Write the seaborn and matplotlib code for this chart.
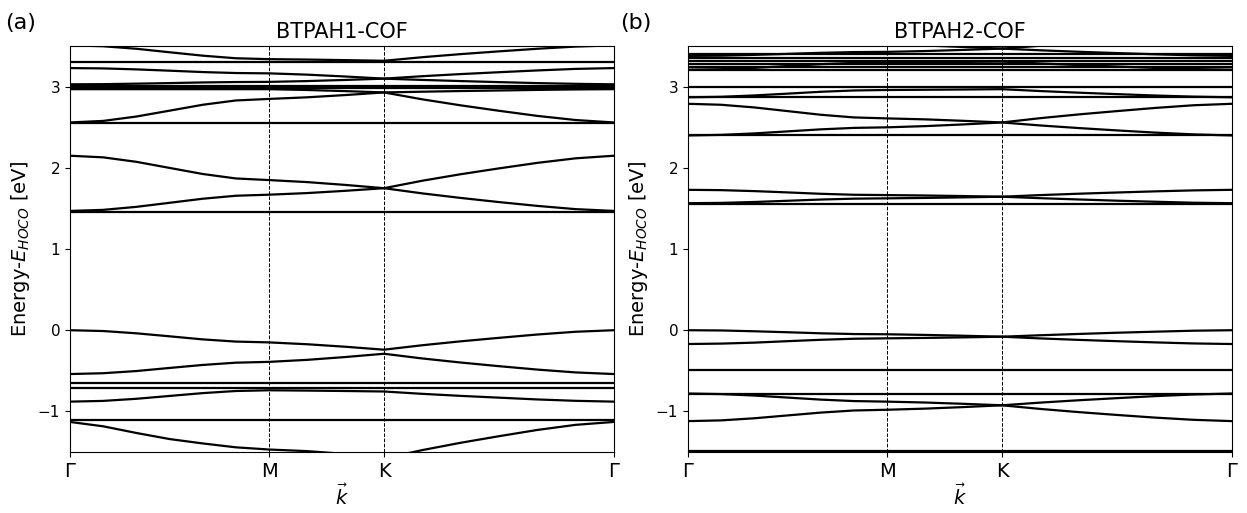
import matplotlib
matplotlib.use("Agg")
import matplotlib.pyplot as plt
import pandas as pd
import seaborn as sns

# k-path (hexagonal BZ: Γ -> M -> K -> Γ) and the sampled points along it
path_labels = ["Γ", "M", "K", "Γ"]
path_ticks = [0.0, 0.866, 1.366, 2.366]
k_samples = [0.0, 0.1443, 0.2887, 0.433, 0.5774, 0.7217, 0.866,
             1.0327, 1.1993, 1.366,
             1.5327, 1.6993, 1.866, 2.0327, 2.1993, 2.366]

titles = ["BTPAH1-COF", "BTPAH2-COF"]
panel_tags = ["(a)", "(b)"]

# dispersive bands of BTPAH1-COF (eV relative to HOCO) at each k sample
bands_cof1 = [
    [3.51, 3.499, 3.468, 3.425, 3.383, 3.351, 3.34, 3.335, 3.328, 3.32, 3.364, 3.402, 3.436, 3.468, 3.495, 3.51],
    [3.23, 3.226, 3.214, 3.198, 3.181, 3.169, 3.165, 3.149, 3.126, 3.10, 3.130, 3.156, 3.179, 3.201, 3.220, 3.23],
    [3.03, 3.032, 3.038, 3.045, 3.053, 3.058, 3.06, 3.07, 3.084, 3.10, 3.084, 3.07, 3.057, 3.045, 3.036, 3.03],
    [2.97, 2.97, 2.97, 2.97, 2.97, 2.97, 2.97, 2.96, 2.946, 2.93, 2.939, 2.947, 2.954, 2.961, 2.967, 2.97],
    [2.56, 2.579, 2.633, 2.705, 2.778, 2.831, 2.85, 2.87, 2.898, 2.93, 2.845, 2.771, 2.704, 2.641, 2.59, 2.56],
    [2.15, 2.13, 2.075, 2.0, 1.925, 1.87, 1.85, 1.825, 1.79, 1.75, 1.842, 1.922, 1.994, 2.062, 2.118, 2.15],
    [1.47, 1.483, 1.52, 1.57, 1.62, 1.657, 1.67, 1.69, 1.718, 1.75, 1.686, 1.63, 1.579, 1.532, 1.492, 1.47],
    [0.0, -0.01, -0.038, -0.075, -0.113, -0.14, -0.15, -0.173, -0.204, -0.24, -0.185, -0.137, -0.094, -0.053, -0.019, 0.0],
    [-0.54, -0.53, -0.503, -0.465, -0.428, -0.40, -0.39, -0.365, -0.33, -0.29, -0.348, -0.398, -0.443, -0.485, -0.52, -0.54],
    [-0.88, -0.871, -0.845, -0.81, -0.775, -0.749, -0.74, -0.744, -0.749, -0.755, -0.784, -0.809, -0.831, -0.853, -0.87, -0.88],
    [-1.13, -1.184, -1.266, -1.341, -1.395, -1.443, -1.47, -1.49, -1.525, -1.58, -1.477, -1.387, -1.306, -1.229, -1.166, -1.13],
]
# flat bands of BTPAH1-COF (eV)
flat_cof1 = [3.30, 3.01, 2.99, 2.557, 1.455, -0.655, -0.71, -1.112]

# dispersive bands of BTPAH2-COF (eV relative to HOCO) at each k sample
bands_cof2 = [
    [3.62, 3.613, 3.595, 3.57, 3.545, 3.527, 3.52, 3.508, 3.49, 3.47, 3.505, 3.535, 3.562, 3.587, 3.608, 3.62],
    [3.38, 3.383, 3.393, 3.405, 3.418, 3.427, 3.43, 3.44, 3.454, 3.47, 3.449, 3.431, 3.415, 3.40, 3.387, 3.38],
    [3.21, 3.216, 3.233, 3.255, 3.278, 3.294, 3.30, 3.303, 3.306, 3.31, 3.287, 3.267, 3.249, 3.232, 3.218, 3.21],
    [2.87, 2.876, 2.893, 2.915, 2.938, 2.954, 2.96, 2.963, 2.966, 2.97, 2.947, 2.927, 2.909, 2.892, 2.878, 2.87],
    [2.79, 2.778, 2.745, 2.70, 2.655, 2.622, 2.61, 2.598, 2.58, 2.56, 2.613, 2.659, 2.70, 2.739, 2.772, 2.79],
    [2.40, 2.407, 2.425, 2.45, 2.475, 2.493, 2.50, 2.515, 2.536, 2.56, 2.523, 2.491, 2.462, 2.435, 2.413, 2.40],
    [1.73, 1.726, 1.714, 1.698, 1.681, 1.669, 1.665, 1.66, 1.653, 1.645, 1.665, 1.682, 1.697, 1.711, 1.723, 1.73],
    [1.565, 1.569, 1.58, 1.595, 1.61, 1.621, 1.625, 1.63, 1.637, 1.645, 1.627, 1.611, 1.596, 1.583, 1.571, 1.565],
    [0.0, -0.003, -0.013, -0.025, -0.038, -0.047, -0.05, -0.058, -0.068, -0.08, -0.062, -0.046, -0.031, -0.018, -0.006, 0.0],
    [-0.17, -0.165, -0.153, -0.135, -0.118, -0.105, -0.10, -0.095, -0.088, -0.08, -0.101, -0.119, -0.135, -0.15, -0.163, -0.17],
    [-0.78, -0.787, -0.805, -0.83, -0.855, -0.873, -0.88, -0.891, -0.907, -0.925, -0.892, -0.863, -0.837, -0.812, -0.792, -0.78],
    [-1.12, -1.111, -1.085, -1.05, -1.015, -0.989, -0.98, -0.966, -0.947, -0.925, -0.97, -1.009, -1.044, -1.077, -1.104, -1.12],
]
# flat bands of BTPAH2-COF (eV)
flat_cof2 = [3.40, 3.35, 3.32, 3.28, 3.245, 3.21, 2.995, 2.87, 2.40, 1.56, -0.485, -0.78, -1.49]

y_ticks = [-1, 0, 1, 2, 3]
y_limits = (-1.5, 3.5)


def to_frame(bands, flats):
    rows = []
    for b, energies in enumerate(bands):
        for k, e in zip(k_samples, energies):
            rows.append({"band": b, "k": k, "E": e})
    for j, level in enumerate(flats):
        for k in (k_samples[0], k_samples[-1]):
            rows.append({"band": len(bands) + j, "k": k, "E": level})
    return pd.DataFrame(rows)


fig = plt.figure(figsize=(12.47, 5.13), dpi=100)
ax_left = fig.add_axes([0.0561, 0.119, 0.4362, 0.791])
ax_right = fig.add_axes([0.5517, 0.119, 0.4362, 0.791])

panels = zip([ax_left, ax_right], [bands_cof1, bands_cof2], [flat_cof1, flat_cof2], titles)
for ax, bands, flats, title in panels:
    df = to_frame(bands, flats)
    sns.lineplot(data=df, x="k", y="E", units="band", estimator=None,
                 color="black", linewidth=1.6, ax=ax, legend=False)
    for xv in path_ticks[1:-1]:
        ax.axvline(xv, color="black", linestyle="--", linewidth=0.7)
    ax.set_xlim(path_ticks[0], path_ticks[-1])
    ax.set_ylim(*y_limits)
    ax.set_xticks(path_ticks)
    ax.set_xticklabels(path_labels, fontsize=14)
    ax.set_yticks(y_ticks)
    ax.tick_params(axis="y", labelsize=11)
    ax.set_title(title, fontsize=15)
    ax.set_xlabel(r"$\vec{k}$", fontsize=14, labelpad=2)
    ax.set_ylabel(r"Energy-$E_{HOCO}$ [eV]", fontsize=14)

fig.text(0.004, 0.955, panel_tags[0], fontsize=16, va="center", ha="left")
fig.text(0.497, 0.955, panel_tags[1], fontsize=16, va="center", ha="left")

fig.savefig("out.png", dpi=100)
